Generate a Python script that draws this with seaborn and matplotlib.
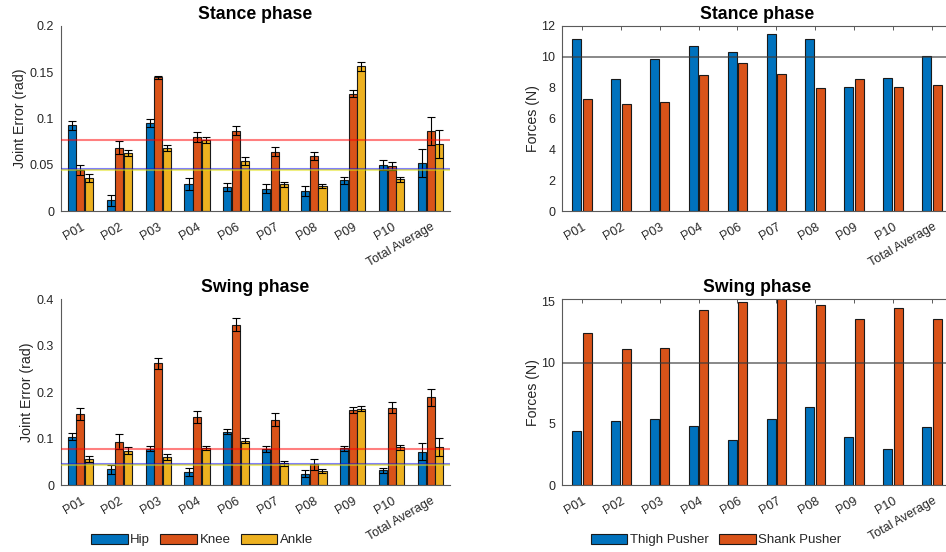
import numpy as np
import pandas as pd
import matplotlib
matplotlib.use("Agg")
import matplotlib.pyplot as plt
from matplotlib.patches import Patch
import seaborn as sns

# ---------------------------------------------------------------- data
subjects = ["P01", "P02", "P03", "P04", "P06", "P07", "P08", "P09", "P10", "Total Average"]

joints = ["Hip", "Knee", "Ankle"]
joint_colors = ["#0072BD", "#D95319", "#EDB120"]

# joint tracking error (rad), stance phase
stance_hip = [0.0924, 0.0115, 0.0950, 0.0291, 0.0255, 0.0241, 0.0216, 0.0331, 0.0496, 0.0514]
stance_hip_err = [0.0050, 0.0058, 0.0043, 0.0065, 0.0043, 0.0047, 0.0058, 0.0041, 0.0050, 0.0151]
stance_knee = [0.0439, 0.0683, 0.1442, 0.0799, 0.0867, 0.0640, 0.0594, 0.1266, 0.0486, 0.0867]
stance_knee_err = [0.0055, 0.0068, 0.0020, 0.0050, 0.0047, 0.0050, 0.0041, 0.0040, 0.0043, 0.0150]
stance_ankle = [0.0356, 0.0630, 0.0680, 0.0770, 0.0536, 0.0290, 0.0270, 0.1560, 0.0342, 0.0720]
stance_ankle_err = [0.0047, 0.0032, 0.0036, 0.0032, 0.0043, 0.0027, 0.0023, 0.0047, 0.0027, 0.0150]
stance_refs = [0.0450, 0.0766, 0.0439]  # hip, knee, ankle reference levels

# joint tracking error (rad), swing phase
swing_hip = [0.1040, 0.0338, 0.0783, 0.0280, 0.1150, 0.0776, 0.0244, 0.0790, 0.0316, 0.0718]
swing_hip_err = [0.0072, 0.0097, 0.0060, 0.0080, 0.0050, 0.0072, 0.0072, 0.0054, 0.0060, 0.0180]
swing_knee = [0.1530, 0.0934, 0.2620, 0.1458, 0.3450, 0.1408, 0.0445, 0.1620, 0.1666, 0.1890]
swing_knee_err = [0.0126, 0.0158, 0.0126, 0.0130, 0.0140, 0.0137, 0.0122, 0.0070, 0.0119, 0.0180]
swing_ankle = [0.0567, 0.0740, 0.0610, 0.0790, 0.0948, 0.0467, 0.0294, 0.1645, 0.0811, 0.0826]
swing_ankle_err = [0.0065, 0.0068, 0.0065, 0.0040, 0.0054, 0.0050, 0.0043, 0.0057, 0.0057, 0.0197]
swing_refs = [0.0460, 0.0768, 0.0430]

pushers = ["Thigh Pusher", "Shank Pusher"]
pusher_colors = ["#0072BD", "#D95319"]

# pusher forces (N)
stance_thigh = [11.16, 8.55, 9.84, 10.66, 10.27, 11.46, 11.12, 8.01, 8.59, 10.06]
stance_shank = [7.25, 6.91, 7.06, 8.78, 9.56, 8.85, 7.94, 8.55, 8.01, 8.16]
swing_thigh = [4.39, 5.21, 5.37, 4.83, 3.68, 5.37, 6.35, 3.93, 2.97, 4.75]
swing_shank = [12.41, 11.13, 11.18, 14.29, 14.95, 15.30, 14.70, 13.61, 14.48, 13.61]
force_ref = 10.0

# ---------------------------------------------------------------- style
sns.set_theme(style="white")
plt.rcParams["font.family"] = ["Liberation Sans", "DejaVu Sans"]
TXT = "#262626"
SPINE = "#5a5a5a"
EDGE = "#1a1a1a"

W, H = 946, 552
fig = plt.figure(figsize=(W / 100, H / 100), dpi=100)


def axes_px(x0, y0, x1, y1):
    return fig.add_axes([x0 / W, 1 - y1 / H, (x1 - x0) / W, (y1 - y0) / H])


def style_axes(ax, boxed):
    for side, sp in ax.spines.items():
        sp.set_color(SPINE)
        sp.set_linewidth(0.8)
        if not boxed and side in ("top", "right"):
            sp.set_visible(False)
    ax.tick_params(axis="both", direction="in", length=3, width=0.7,
                   color=SPINE, labelsize=9, labelcolor=TXT,
                   top=boxed, right=False)
    ax.tick_params(axis="x", pad=7)
    ax.tick_params(axis="y", pad=5)
    ax.set_xlim(-0.5, len(subjects) - 0.5)
    ax.set_xlabel("")
    for lab in ax.get_xticklabels():
        lab.set_rotation(30)
        lab.set_ha("right")
        lab.set_rotation_mode("anchor")


def joint_panel(ax, title, means, errs, refs, ylim, yticks, yticklabels):
    df = pd.concat(
        [pd.DataFrame({"Subject": subjects, "Joint": j, "Error": m}) for j, m in zip(joints, means)],
        ignore_index=True,
    )
    sns.barplot(data=df, x="Subject", y="Error", hue="Joint", hue_order=joints,
                palette=joint_colors, saturation=1, width=0.667, gap=0.07,
                errorbar=None, edgecolor=EDGE, linewidth=0.8, legend=False, ax=ax)
    for cont, m, e in zip(ax.containers, means, errs):
        xs = [b.get_x() + b.get_width() / 2 for b in cont]
        ax.errorbar(xs, m, yerr=e, fmt="none", ecolor="black", elinewidth=0.8,
                    capsize=3, capthick=0.8, zorder=4)
    for val, c in zip(refs, ["#0000ff", "#ff0000", "#e6e600"]):
        ax.axhline(val, color=c, alpha=0.5, lw=1.5, zorder=5)
    ax.set_ylim(*ylim)
    ax.set_yticks(yticks)
    ax.set_yticklabels(yticklabels)
    ax.set_ylabel("Joint Error (rad)", fontsize=10.2, color=TXT, labelpad=2)
    ax.set_title(title, fontsize=12.7, fontweight="bold", color="black", pad=5)
    style_axes(ax, boxed=False)


def force_panel(ax, title, thigh, shank, ylim, yticks):
    df = pd.concat(
        [pd.DataFrame({"Subject": subjects, "Pusher": p, "Force": v})
         for p, v in zip(pushers, [thigh, shank])],
        ignore_index=True,
    )
    sns.barplot(data=df, x="Subject", y="Force", hue="Pusher", hue_order=pushers,
                palette=pusher_colors, saturation=1, width=0.556, gap=0.17,
                errorbar=None, edgecolor=EDGE, linewidth=0.8, legend=False, ax=ax)
    ax.axhline(force_ref, color="#3a3a3a", alpha=0.7, lw=1.2, zorder=5)
    ax.set_ylim(*ylim)
    ax.set_yticks(yticks)
    ax.set_yticklabels([f"{t:g}" for t in yticks])
    ax.set_ylabel("Forces (N)", fontsize=10.2, color=TXT, labelpad=1)
    ax.set_title(title, fontsize=12.7, fontweight="bold", color="black", pad=5)
    style_axes(ax, boxed=True)


ax1 = axes_px(61, 25.7, 450, 211)
ax2 = axes_px(562.2, 25.7, 951.7, 211)
ax3 = axes_px(61, 299.3, 450, 485)
ax4 = axes_px(562.2, 299.3, 951.7, 485)

joint_panel(ax1, "Stance phase",
            [stance_hip, stance_knee, stance_ankle],
            [stance_hip_err, stance_knee_err, stance_ankle_err],
            stance_refs, (0, 0.2), [0, 0.05, 0.1, 0.15, 0.2],
            ["0", "0.05", "0.1", "0.15", "0.2"])
joint_panel(ax3, "Swing phase",
            [swing_hip, swing_knee, swing_ankle],
            [swing_hip_err, swing_knee_err, swing_ankle_err],
            swing_refs, (0, 0.4), [0, 0.1, 0.2, 0.3, 0.4],
            ["0", "0.1", "0.2", "0.3", "0.4"])
force_panel(ax2, "Stance phase", stance_thigh, stance_shank, (0, 12), [0, 2, 4, 6, 8, 10, 12])
force_panel(ax4, "Swing phase", swing_thigh, swing_shank, (0, 15.2), [0, 5, 10, 15])

# ---------------------------------------------------------------- legends
leg_kw = dict(loc="center", ncol=3, frameon=False, fontsize=9.5, handlelength=2.8,
              handleheight=0.85, handletextpad=0.2, columnspacing=0.75, labelcolor=TXT)
fig.legend(handles=[Patch(facecolor=c, edgecolor=EDGE, lw=0.8, label=j)
                    for j, c in zip(joints, joint_colors)],
           bbox_to_anchor=(202 / W, 1 - 540 / H), **leg_kw)
fig.legend(handles=[Patch(facecolor=c, edgecolor=EDGE, lw=0.8, label=p)
                    for p, c in zip(pushers, pusher_colors)],
           bbox_to_anchor=(716 / W, 1 - 540 / H), **leg_kw)

fig.savefig("out.png", dpi=100, facecolor="white")
